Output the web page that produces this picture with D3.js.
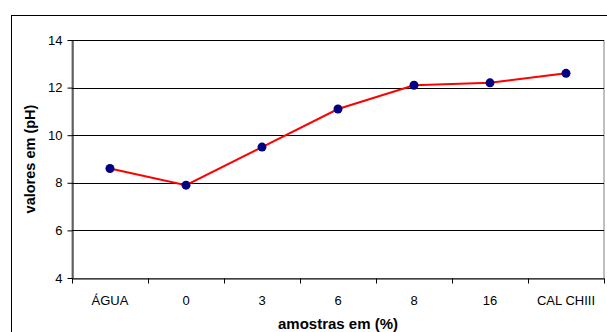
<!DOCTYPE html>
<html><head><meta charset="utf-8">
<script src="https://cdn.jsdelivr.net/npm/d3@7"></script>
<style>body{margin:0;background:#fff}svg{display:block}</style>
</head><body>
<script>
const categories = ["ÁGUA","0","3","6","8","16","CAL CHIII"];
const phValues = [8.6, 7.9, 9.5, 11.1, 12.1, 12.2, 12.6];
const yTicks = [4,6,8,10,12,14];

(function(){
const W = 607, H = 332;
const svg = d3.select("body").append("svg").attr("width", W).attr("height", H);
const font = "Liberation Sans, Arial, sans-serif";

// outer chart border
svg.append("rect").attr("x", 11.5).attr("y", 15.5).attr("width", 620).attr("height", 340)
  .attr("fill", "none").attr("stroke", "#000").attr("stroke-width", 1);

const pl = 72, pr = 604, pt = 40, pb = 278;
const x = d3.scaleBand().domain(categories).range([pl, pr]);
const y = d3.scaleLinear().domain([4, 14]).range([pb, pt]);

// plot area border (gray)
svg.append("rect").attr("x", pl).attr("y", pt + 0.5).attr("width", pr - pl).attr("height", pb - pt)
  .attr("fill", "none").attr("stroke", "#808080").attr("stroke-width", 1);

// gridlines
svg.append("g").selectAll("line").data(yTicks.filter(d => d > 4)).join("line")
  .attr("x1", pl).attr("x2", pr)
  .attr("y1", d => Math.round(y(d)) + 0.5).attr("y2", d => Math.round(y(d)) + 0.5)
  .attr("stroke", "#000").attr("stroke-width", 1);

// y axis
const ya = svg.append("g").attr("transform", `translate(${pl + 0.5},0)`)
  .call(d3.axisLeft(y).tickValues(yTicks).tickSize(5).tickPadding(5).tickSizeOuter(0));
ya.select(".domain").attr("stroke", "#000");
ya.selectAll("text").attr("font-family", font).attr("font-size", 13).attr("fill", "#000");

// x axis
const xa = svg.append("g").attr("transform", `translate(0,${pb + 0.5})`)
  .call(d3.axisBottom(x).tickSize(0).tickPadding(17));
xa.select(".domain").attr("stroke", "#000");
xa.selectAll("text").attr("font-family", font).attr("font-size", 13).attr("fill", "#000");
const boundaries = categories.map((c) => x(c)).concat([pr]);
xa.append("g").selectAll("line").data(boundaries).join("line")
  .attr("x1", d => Math.round(d) + 0.5).attr("x2", d => Math.round(d) + 0.5)
  .attr("y1", 0).attr("y2", 5).attr("stroke", "#000");

// axis titles
svg.append("text").attr("x", 338).attr("y", 329).attr("text-anchor", "middle")
  .attr("font-family", font).attr("font-size", 15).attr("font-weight", "bold").text("amostras em (%)");
svg.append("text").attr("transform", `translate(35,159) rotate(-90)`).attr("text-anchor", "middle")
  .attr("font-family", font).attr("font-size", 14.5).attr("font-weight", "bold").text("valores em (pH)");

// line
const cx = (d, i) => x(categories[i]) + x.bandwidth() / 2;
const line = d3.line().x((d, i) => cx(d, i)).y(d => y(d));
svg.append("path").datum(phValues).attr("d", line).attr("fill", "none")
  .attr("stroke", "#ff0000").attr("stroke-width", 2);

svg.append("g").selectAll("circle").data(phValues).join("circle")
  .attr("cx", (d, i) => cx(d, i)).attr("cy", d => y(d)).attr("r", 4.5)
  .attr("fill", "#000080");
})();
</script>
</body></html>
